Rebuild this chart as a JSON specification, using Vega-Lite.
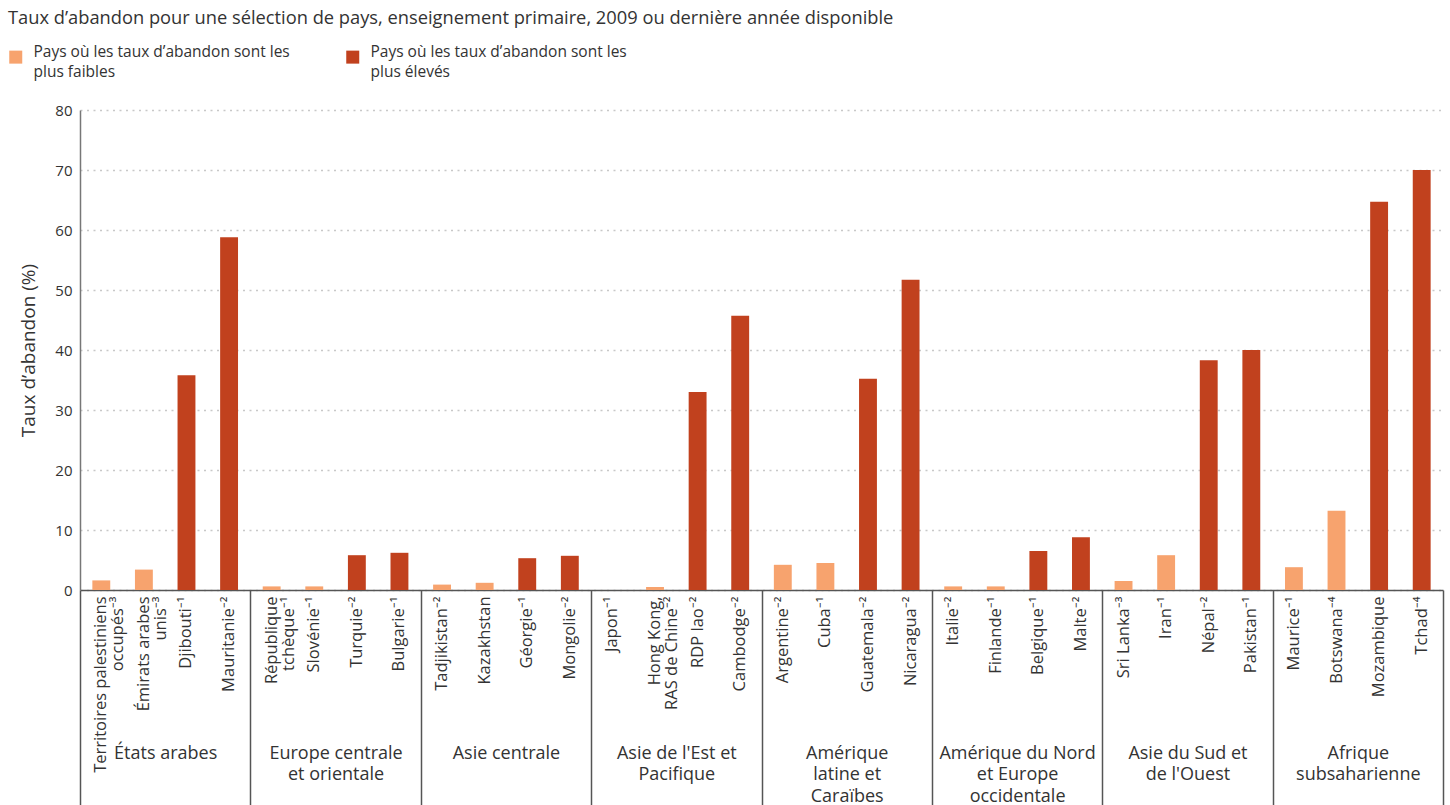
{
  "$schema": "https://vega.github.io/schema/vega-lite/v6.json",
  "width": 1363,
  "height": 480,
  "autosize": {"type": "pad"},
  "padding": {"left": 8, "top": 8, "right": 7, "bottom": 0},
  "background": "white",
  "title": {
    "text": "Taux d’abandon pour une sélection de pays, enseignement primaire, 2009 ou dernière année disponible",
    "anchor": "start",
    "frame": "bounds",
    "font": "Open Sans",
    "fontSize": 18.3,
    "fontWeight": "normal",
    "color": "#333333",
    "offset": 21
  },
  "config": {
    "view": {"stroke": null},
    "font": "Open Sans",
    "axis": {"labelFont": "Open Sans", "titleFont": "Open Sans"},
    "legend": {"labelFont": "Open Sans"},
    "style": {"guide-label": {"lineHeight": 20}}
  },
  "datasets": {
    "pays": [
      {"region": "États arabes", "pays": "Territoires palestiniens\noccupés⁻³", "taux": 1.6, "groupe": "Pays où les taux d’abandon sont les plus faibles"},
      {"region": "États arabes", "pays": "Émirats arabes\nunis⁻³", "taux": 3.4, "groupe": "Pays où les taux d’abandon sont les plus faibles"},
      {"region": "États arabes", "pays": "Djibouti⁻¹", "taux": 35.8, "groupe": "Pays où les taux d’abandon sont les plus élevés"},
      {"region": "États arabes", "pays": "Mauritanie⁻²", "taux": 58.8, "groupe": "Pays où les taux d’abandon sont les plus élevés"},
      {"region": "Europe centrale et orientale", "pays": "République\ntchèque⁻¹", "taux": 0.6, "groupe": "Pays où les taux d’abandon sont les plus faibles"},
      {"region": "Europe centrale et orientale", "pays": "Slovénie⁻¹", "taux": 0.6, "groupe": "Pays où les taux d’abandon sont les plus faibles"},
      {"region": "Europe centrale et orientale", "pays": "Turquie⁻²", "taux": 5.8, "groupe": "Pays où les taux d’abandon sont les plus élevés"},
      {"region": "Europe centrale et orientale", "pays": "Bulgarie⁻¹", "taux": 6.2, "groupe": "Pays où les taux d’abandon sont les plus élevés"},
      {"region": "Asie centrale", "pays": "Tadjikistan⁻²", "taux": 0.9, "groupe": "Pays où les taux d’abandon sont les plus faibles"},
      {"region": "Asie centrale", "pays": "Kazakhstan", "taux": 1.2, "groupe": "Pays où les taux d’abandon sont les plus faibles"},
      {"region": "Asie centrale", "pays": "Géorgie⁻¹", "taux": 5.3, "groupe": "Pays où les taux d’abandon sont les plus élevés"},
      {"region": "Asie centrale", "pays": "Mongolie⁻²", "taux": 5.7, "groupe": "Pays où les taux d’abandon sont les plus élevés"},
      {"region": "Asie de l'Est et Pacifique", "pays": "Japon⁻¹", "taux": 0, "groupe": "Pays où les taux d’abandon sont les plus faibles"},
      {"region": "Asie de l'Est et Pacifique", "pays": "Hong Kong,\nRAS de Chine⁻²", "taux": 0.5, "groupe": "Pays où les taux d’abandon sont les plus faibles"},
      {"region": "Asie de l'Est et Pacifique", "pays": "RDP lao⁻²", "taux": 33.0, "groupe": "Pays où les taux d’abandon sont les plus élevés"},
      {"region": "Asie de l'Est et Pacifique", "pays": "Cambodge⁻²", "taux": 45.7, "groupe": "Pays où les taux d’abandon sont les plus élevés"},
      {"region": "Amérique latine et Caraïbes", "pays": "Argentine⁻²", "taux": 4.2, "groupe": "Pays où les taux d’abandon sont les plus faibles"},
      {"region": "Amérique latine et Caraïbes", "pays": "Cuba⁻¹", "taux": 4.5, "groupe": "Pays où les taux d’abandon sont les plus faibles"},
      {"region": "Amérique latine et Caraïbes", "pays": "Guatemala⁻²", "taux": 35.2, "groupe": "Pays où les taux d’abandon sont les plus élevés"},
      {"region": "Amérique latine et Caraïbes", "pays": "Nicaragua⁻²", "taux": 51.7, "groupe": "Pays où les taux d’abandon sont les plus élevés"},
      {"region": "Amérique du Nord et Europe occidentale", "pays": "Italie⁻²", "taux": 0.6, "groupe": "Pays où les taux d’abandon sont les plus faibles"},
      {"region": "Amérique du Nord et Europe occidentale", "pays": "Finlande⁻¹", "taux": 0.6, "groupe": "Pays où les taux d’abandon sont les plus faibles"},
      {"region": "Amérique du Nord et Europe occidentale", "pays": "Belgique⁻¹", "taux": 6.5, "groupe": "Pays où les taux d’abandon sont les plus élevés"},
      {"region": "Amérique du Nord et Europe occidentale", "pays": "Malte⁻²", "taux": 8.8, "groupe": "Pays où les taux d’abandon sont les plus élevés"},
      {"region": "Asie du Sud et de l'Ouest", "pays": "Sri Lanka⁻³", "taux": 1.5, "groupe": "Pays où les taux d’abandon sont les plus faibles"},
      {"region": "Asie du Sud et de l'Ouest", "pays": "Iran⁻¹", "taux": 5.8, "groupe": "Pays où les taux d’abandon sont les plus faibles"},
      {"region": "Asie du Sud et de l'Ouest", "pays": "Népal⁻²", "taux": 38.3, "groupe": "Pays où les taux d’abandon sont les plus élevés"},
      {"region": "Asie du Sud et de l'Ouest", "pays": "Pakistan⁻¹", "taux": 40.0, "groupe": "Pays où les taux d’abandon sont les plus élevés"},
      {"region": "Afrique subsaharienne", "pays": "Maurice⁻¹", "taux": 3.8, "groupe": "Pays où les taux d’abandon sont les plus faibles"},
      {"region": "Afrique subsaharienne", "pays": "Botswana⁻⁴", "taux": 13.2, "groupe": "Pays où les taux d’abandon sont les plus faibles"},
      {"region": "Afrique subsaharienne", "pays": "Mozambique", "taux": 64.7, "groupe": "Pays où les taux d’abandon sont les plus élevés"},
      {"region": "Afrique subsaharienne", "pays": "Tchad⁻⁴", "taux": 70.0, "groupe": "Pays où les taux d’abandon sont les plus élevés"}
    ],
    "regions": [
      {"region": "États arabes"},
      {"region": "Europe centrale\net orientale"},
      {"region": "Asie centrale"},
      {"region": "Asie de l'Est et\nPacifique"},
      {"region": "Amérique\nlatine et\nCaraïbes"},
      {"region": "Amérique du Nord\net Europe\noccidentale"},
      {"region": "Asie du Sud et\nde l'Ouest"},
      {"region": "Afrique\nsubsaharienne"}
    ]
  },
  "layer": [
    {
      "data": {"name": "pays"},
      "mark": {"type": "bar"},
      "encoding": {
        "x": {
          "field": "pays",
          "type": "nominal",
          "sort": null,
          "scale": {"paddingInner": 0.58, "paddingOuter": 0.29},
          "axis": {
            "title": null,
            "orient": "bottom",
            "labelAngle": -90,
            "labelAlign": "right",
            "labelBaseline": "middle",
            "ticks": false,
            "labelPadding": 6,
            "labelFontSize": 16.5,
            "labelColor": "#333333",
            "labelLineHeight": 17,
            "labelLimit": 400,
            "labelOverlap": false,
            "labelExpr": "split(datum.label, '\\n')",
            "domainColor": "#555555",
            "domainWidth": 1.5,
            "grid": false
          }
        },
        "y": {
          "field": "taux",
          "type": "quantitative",
          "scale": {"domain": [0, 80], "nice": false},
          "axis": {
            "title": "Taux d’abandon (%)",
            "values": [0, 10, 20, 30, 40, 50, 60, 70, 80],
            "ticks": false,
            "labelPadding": 8,
            "labelFontSize": 15,
            "labelColor": "#333333",
            "domainColor": "#777777",
            "domainWidth": 1.5,
            "grid": true,
            "gridColor": "#c8c8c8",
            "gridDash": [2, 4.5],
            "gridWidth": 1.5,
            "titleFontSize": 19,
            "titleFontWeight": "normal",
            "titleColor": "#333333",
            "titlePadding": 16
          }
        },
        "color": {
          "field": "groupe",
          "type": "nominal",
          "scale": {
            "domain": ["Pays où les taux d’abandon sont les plus faibles", "Pays où les taux d’abandon sont les plus élevés"],
            "range": ["#F7A36E", "#C1411E"]
          },
          "legend": {
            "title": null,
            "orient": "none",
            "legendX": -72,
            "legendY": -61,
            "direction": "horizontal",
            "columns": 2,
            "symbolType": "square",
            "symbolSize": 169,
            "symbolStrokeWidth": 0,
            "labelFontSize": 15.5,
            "labelColor": "#333333",
            "labelBaseline": "alphabetic",
            "labelLimit": 400,
            "labelOffset": 10,
            "columnPadding": 55,
            "labelExpr": "split(replace(datum.label, ' plus', '\\nplus'), '\\n')"
          }
        }
      }
    },
    {
      "data": {"name": "regions"},
      "mark": {"type": "point", "opacity": 0},
      "encoding": {
        "x": {
          "field": "region",
          "type": "nominal",
          "sort": null,
          "scale": {"paddingInner": 0, "paddingOuter": 0},
          "axis": {
            "title": null,
            "orient": "bottom",
            "tickBand": "extent",
            "ticks": true,
            "tickSize": 216,
            "tickColor": "#555555",
            "tickWidth": 1.5,
            "domain": false,
            "labelAngle": 0,
            "labelAlign": "center",
            "labelBaseline": "top",
            "labelPadding": -62,
            "labelFontSize": 18,
            "labelLineHeight": 21.5,
            "labelColor": "#333333",
            "labelLimit": 400,
            "labelOverlap": false,
            "labelExpr": "split(datum.label, '\\n')",
            "grid": false
          }
        }
      }
    }
  ],
  "resolve": {"scale": {"x": "independent", "color": "shared"}, "axis": {"x": "independent"}}
}
